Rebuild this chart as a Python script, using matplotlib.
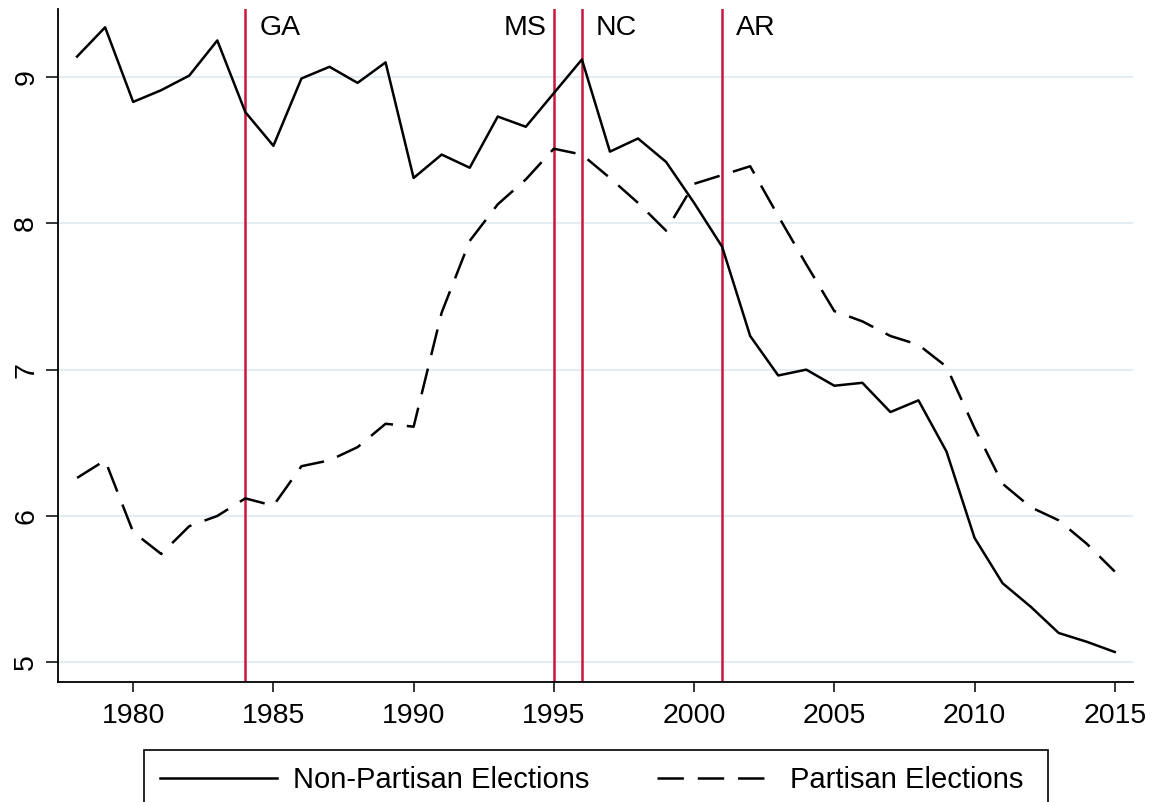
#Grafico de elecciones partidistas y no partidistas

import matplotlib
matplotlib.use('Agg')
import matplotlib.pyplot as plt
from matplotlib.patches import Rectangle

plt.rcParams['font.family'] = ['Liberation Sans', 'DejaVu Sans']
plt.rcParams['lines.scale_dashes'] = False

#Datos

years = list(range(1978, 2016))
nonpartisan = [9.14, 9.34, 8.83, 8.91, 9.01, 9.25, 8.76, 8.53, 8.99, 9.07,
               8.96, 9.10, 8.31, 8.47, 8.38, 8.73, 8.66, 8.89, 9.12, 8.49,
               8.58, 8.42, 8.14, 7.84, 7.23, 6.96, 7.00, 6.89, 6.91, 6.71,
               6.79, 6.44, 5.85, 5.54, 5.38, 5.20, 5.14, 5.07]
partisan = [6.26, 6.38, 5.89, 5.74, 5.93, 6.00, 6.12, 6.07, 6.34, 6.38,
            6.47, 6.63, 6.61, 7.39, 7.88, 8.13, 8.30, 8.51, 8.47, 8.31,
            8.14, 7.95, 8.27, 8.33, 8.39, 8.05, 7.72, 7.40, 7.33, 7.23,
            7.17, 7.02, 6.60, 6.22, 6.06, 5.97, 5.81, 5.62]
series_names = ['Non-Partisan Elections', 'Partisan Elections']

reform_states = ['GA', 'MS', 'NC', 'AR']
reform_years = [1984, 1995, 1996, 2001]
label_side = ['right', 'left', 'right', 'right']

xticks = [1980, 1985, 1990, 1995, 2000, 2005, 2010, 2015]
yticks = [5, 6, 7, 8, 9]

red = '#c8163f'
W, H = 1157, 802

#Figura

fig = plt.figure(figsize=(W / 100, H / 100), dpi=100)
ax = fig.add_axes([58 / W, (H - 681.7) / H, (1133 - 58) / W, (681.7 - 9) / H])

for yv in yticks:
    ax.axhline(yv, color='#e4edf2', lw=1.5, zorder=0)

for st, yr, side in zip(reform_states, reform_years, label_side):
    ax.axvline(yr, color=red, lw=1.8, zorder=1)
    if side == 'right':
        ax.annotate(st, (yr, 9.335), xytext=(10, 0), textcoords='offset points',
                    ha='left', va='center', fontsize=20.5)
    else:
        ax.annotate(st, (yr, 9.335), xytext=(-5, 0), textcoords='offset points',
                    ha='right', va='center', fontsize=20.5)

l1, = ax.plot(years, nonpartisan, color='black', lw=1.8, zorder=3)
l2, = ax.plot(years, partisan, color='black', lw=1.8, zorder=3,
              linestyle=(0, (19, 10)))

ax.set_xlim(1977.32, 2015.65)
ax.set_ylim(4.867, 9.465)
ax.set_xticks(xticks)
ax.set_yticks(yticks)
ax.set_yticklabels([str(v) for v in yticks], rotation=90, va='center')
ax.tick_params(axis='x', length=7.5, width=1.1, pad=8, labelsize=20.5)
ax.tick_params(axis='y', length=8.5, width=1.1, pad=5, labelsize=20.5)
for s in ['top', 'right']:
    ax.spines[s].set_visible(False)
for s in ['left', 'bottom']:
    ax.spines[s].set_linewidth(1.3)

#Leyenda

fig.legend([l1, l2], series_names, loc='upper left', ncol=2,
           bbox_to_anchor=(144 / W, 1 - 750 / H), borderaxespad=0,
           frameon=False, fontsize=21, handlelength=4.0, handletextpad=0.55,
           columnspacing=2.33, borderpad=0.55)
fig.patches.append(Rectangle((144 / W, -0.02), (1048 - 144) / W, 0.02 + (H - 750) / H,
                             transform=fig.transFigure, fill=False,
                             edgecolor='black', lw=1.2))

fig.savefig('out.png', dpi=100)
